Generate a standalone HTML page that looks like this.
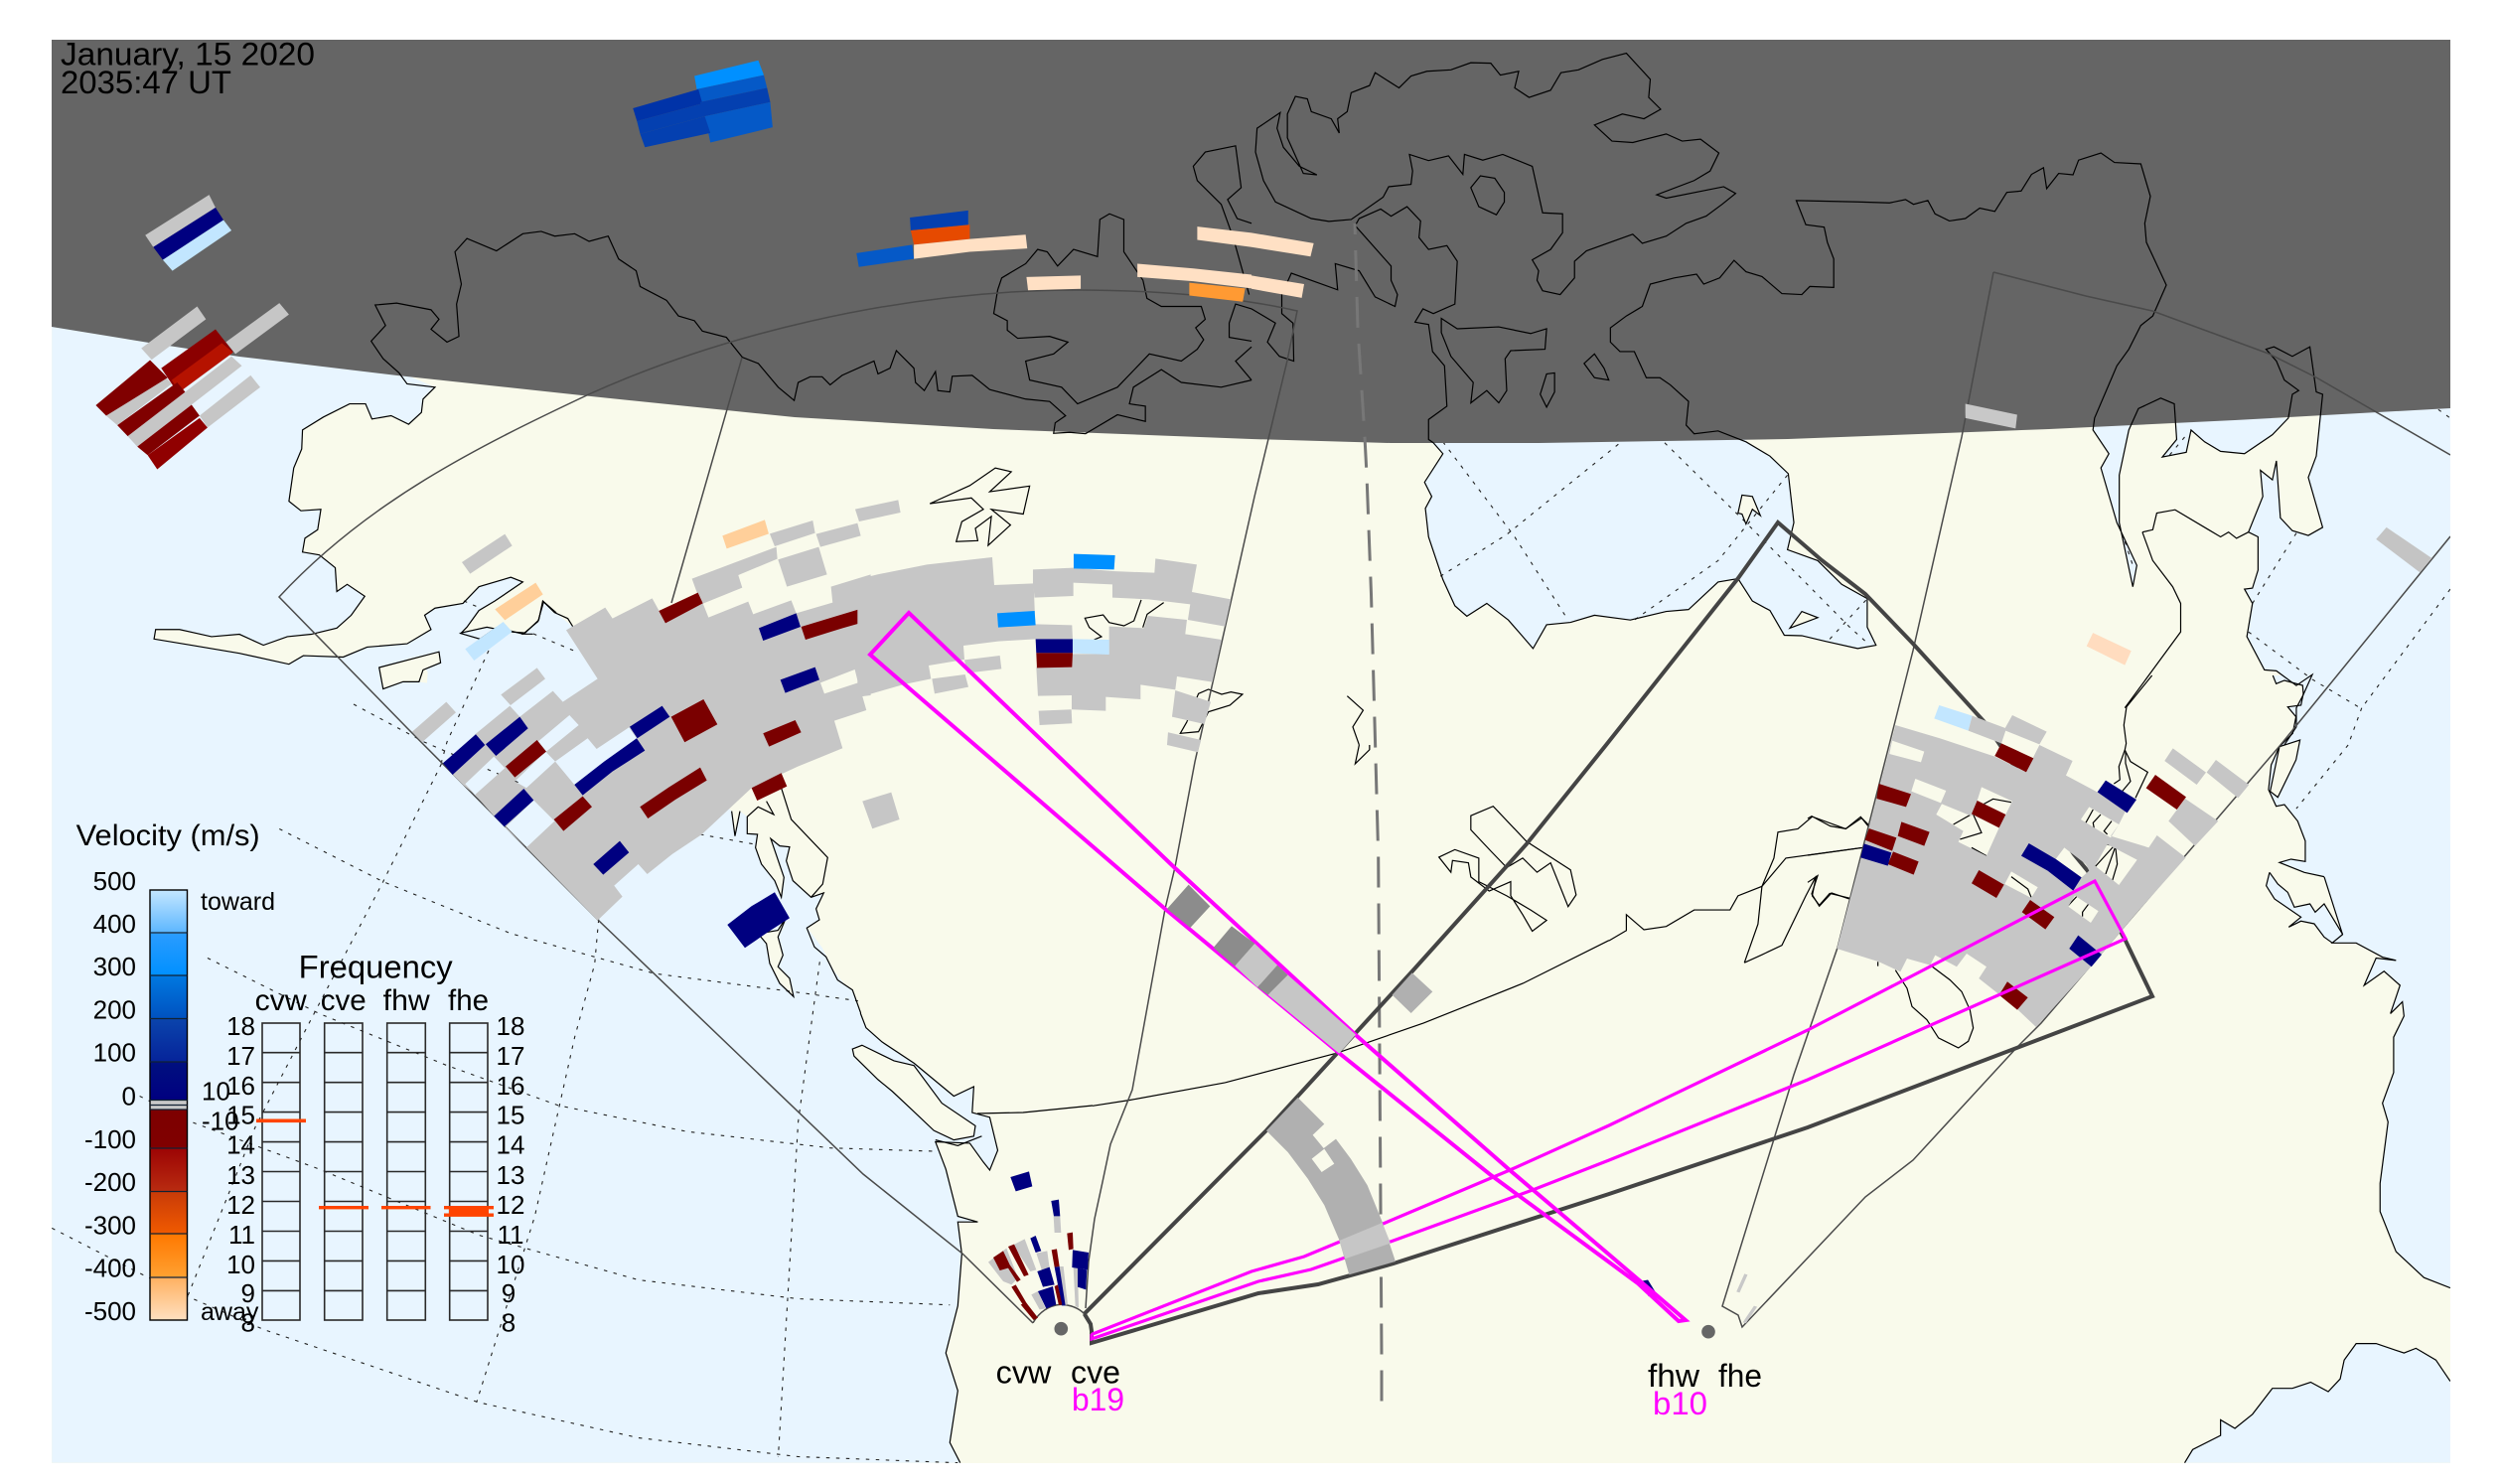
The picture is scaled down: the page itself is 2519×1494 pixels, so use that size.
<!DOCTYPE html>
<html><head><meta charset="utf-8"><style>
html,body{margin:0;padding:0;background:#fff}
svg{display:block;font-family:"Liberation Sans",sans-serif}
polygon,polyline,path{vector-effect:non-scaling-stroke}
.oc{fill:#e8f5ff}.la{fill:#f9faeb}
.c polyline,.c polygon{fill:none;stroke:#000;stroke-width:1.2}
.d polyline{fill:none;stroke:#222;stroke-width:1.1;stroke-dasharray:3.5 6.5}
.g{fill:#c6c6c6}.n{fill:#000080}.r{fill:#7a0000}.lb{fill:#c2e6ff}.b{fill:#0090ff}.po{fill:#ffcf9a}.pe{fill:#ffe0c4}
.ar{fill:#b0b0b0}.dg{fill:#8c8c8c}
.t{font-size:26px;fill:#000}
</style></head><body>
<svg width="2519" height="1494" viewBox="0 0 2519 1494" xmlns="http://www.w3.org/2000/svg">
<defs>
<clipPath id="plot"><rect x="52" y="40" width="2415" height="1433"/></clipPath>
<linearGradient id="cb" x1="0" y1="0" x2="0" y2="1">
<stop offset="0" stop-color="#c4e7ff"/><stop offset=".1" stop-color="#5cb6ff"/>
<stop offset=".102" stop-color="#2a9cff"/><stop offset=".199" stop-color="#0090ff"/>
<stop offset=".2" stop-color="#0078e0"/><stop offset=".298" stop-color="#0052c0"/>
<stop offset=".3" stop-color="#0a44ac"/><stop offset=".398" stop-color="#06249a"/>
<stop offset=".4" stop-color="#00107f"/><stop offset=".487" stop-color="#000080"/>
<stop offset=".488" stop-color="#c8c8c8"/><stop offset=".509" stop-color="#c8c8c8"/>
<stop offset=".51" stop-color="#7d0000"/><stop offset=".598" stop-color="#800000"/>
<stop offset=".6" stop-color="#9c0404"/><stop offset=".698" stop-color="#b82a10"/>
<stop offset=".7" stop-color="#c83a08"/><stop offset=".798" stop-color="#f05a00"/>
<stop offset=".8" stop-color="#ff7800"/><stop offset=".898" stop-color="#ffa030"/>
<stop offset=".9" stop-color="#ffb060"/><stop offset="1" stop-color="#ffe0c0"/>
</linearGradient>
</defs>
<g clip-path="url(#plot)">
<rect x="52" y="40" width="2415" height="1433" fill="#f9faeb"/>

<!-- oceans -->
<g transform="matrix(.8036 0 0 .4783 0 0)" class="oc">
<polygon points="65,650 510,760 510,790 545,815 530,840 528,868 512,893 490,875 466,882 458,850 438,850 405,878 379,905 378,945 368,985 362,1055 377,1075 402,1072 398,1115 382,1133 379,1162 400,1168 420,1195 422,1245 435,1230 457,1255 440,1295 422,1322 390,1335 360,1340 330,1358 300,1335 265,1340 225,1325 195,1325 193,1345 240,1358 300,1375 362,1398 380,1380 430,1383 460,1362 510,1355 540,1325 532,1295 545,1280 580,1270 600,1235 640,1215 655,1225 620,1265 600,1285 585,1320 578,1332 610,1320 640,1330 658,1332 675,1305 680,1265 697,1290 717,1319 748,1428 800,1533 820,1568 65,1568"/>
</g>
<g transform="matrix(.3333 0 0 .3333 410 500)" class="oc">
<polygon points="500,392 575,550 700,700 980,950 990,1025 1005,950 1027,967 1027,1018 1058,1020 1052,1060 1070,1110 1110,1160 1130,1210 1138,1150 1098,1033 1125,1055 1155,1058 1145,1100 1165,1160 1220,1210 1258,1197 1235,1245 1245,1278 1207,1303 1230,1360 1265,1390 1300,1460 1345,1490 1370,1560 0,1560 0,560 100,520 158,430 220,432 270,398 350,417 395,377"/>
</g>
<g transform="matrix(.8036 0 0 .4745 0 750)" class="oc">
<polygon points="65,0 830,0 900,150 960,300 1010,385 1030,430 1045,480 1073,540 1085,600 1105,630 1145,675 1195,745 1220,725 1218,780 1240,790 1250,860 1240,902 1232,885 1215,845 1172,842 1185,900 1200,1000 1225,1012 1200,1012 1205,1080 1200,1190 1185,1290 1200,1370 1190,1480 1203,1523 65,1523"/>
</g>
<g transform="matrix(.803 0 0 .4783 1260 0)" class="oc">
<polygon points="225,900 225,930 240,955 217,1015 226,1045 218,1070 222,1130 240,1220 255,1275 270,1297 295,1270 322,1305 335,1330 353,1365 370,1315 400,1310 430,1295 475,1305 520,1287 548,1283 585,1225 610,1218 628,1265 650,1285 668,1337 690,1338 720,1350 760,1365 783,1358 772,1320 772,1260 740,1230 710,1180 672,1157 680,1100 673,997 650,960 620,930 620,900"/>
<polygon points="1058,880 1055,905 1075,955 1065,985 1085,1100 1110,1190 1105,1235 1088,1100 1088,1000 1100,905 1105,880"/>
<polygon points="1160,880 1160,925 1142,962 1172,952 1178,905 1195,930 1215,950 1245,955 1280,915 1300,880"/>
<polygon points="1340,850 1335,960 1325,1005 1343,1110 1325,1127 1305,1117 1290,1090 1285,970 1280,1010 1265,990 1268,1045 1250,1120 1262,1130 1262,1200 1255,1238 1245,1240 1255,1270 1248,1340 1270,1410 1285,1412 1310,1443 1330,1420 1318,1465 1310,1490 1310,1530 1295,1568 1503,1568 1503,850"/>
</g>
<g transform="matrix(.3333 0 0 .3333 1820 680)" class="oc">
<polygon points="1405,0 1415,25 1440,15 1495,30 1497,55 1490,90 1450,95 1475,125 1465,175 1425,215 1400,270 1392,345 1415,395 1440,390 1480,440 1503,500 1503,562 1460,555 1425,565 1500,595 1560,608 1616,782 1560,690 1533,715 1517,690 1470,700 1450,655 1420,630 1395,595 1385,635 1410,675 1490,730 1453,760 1490,742 1530,750 1560,790 1585,808 1616,782 1941,900 1941,0"/>
</g>
<g transform="matrix(.803 0 0 .4745 1260 750)" class="oc">
<polygon points="1322,205 1322,245 1288,250 1345,280 1368,402 1355,420 1385,420 1418,450 1435,457 1410,452 1395,510 1420,480 1440,510 1428,570 1443,545 1445,575 1432,620 1432,695 1418,760 1425,800 1415,930 1415,990 1435,1075 1470,1130 1503,1152 1503,205"/>
<polygon points="1170,1523 1180,1495 1215,1465 1215,1432 1233,1450 1255,1420 1280,1365 1305,1365 1328,1352 1350,1372 1365,1345 1370,1305 1385,1270 1410,1270 1445,1290 1460,1280 1485,1305 1503,1350 1503,1523"/>
</g>

<!-- land in ocean -->
<g transform="matrix(.3333 0 0 .3333 410 500)" class="la">
<polygon points="0,490 93,468 102,503 45,505 62,530 60,563 0,555"/>
<polygon points="1060,1320 1120,1310 1145,1270 1120,1330 1135,1385 1120,1420 1155,1455 1167,1510 1125,1470 1095,1410 1085,1350"/>
</g>
<g transform="matrix(.8036 0 0 .4745 0 750)" class="la">
<polygon points="1068,645 1080,637 1120,670 1145,680 1180,760 1222,808 1220,830 1195,838 1170,818 1140,770 1118,735 1100,710 1070,660"/>
</g>
<g transform="matrix(.8036 0 0 .4783 0 0)" class="la">
<polygon points="475,1405 550,1372 552,1395 530,1410 525,1435 505,1435 480,1450"/>
</g>
<g transform="matrix(.803 0 0 .4783 1260 0)" class="la">
<polygon points="675,1322 690,1287 710,1300"/>
<polygon points="610,1080 615,1042 628,1045 638,1085 628,1072 620,1103 615,1082"/>
</g>
<g transform="matrix(.3333 0 0 .3333 1820 680)" class="la">
<polygon points="1397,350 1425,215 1487,195 1475,255 1420,368"/>
</g>

<!-- dotted grid -->
<g class="d">
<g transform="matrix(.8036 0 0 .4745 0 750)">
<polyline points="350,178 480,290 640,400 820,485 1000,525 1075,543"/>
<polyline points="260,452 400,570 560,680 700,765 860,820 1040,855 1170,862"/>
<polyline points="175,745 240,800 400,900 600,1040 800,1135 1000,1175 1190,1188"/>
<polyline points="65,1025 180,1125 235,1170 330,1240 600,1395 800,1470 1000,1510 1200,1523"/>
<polyline points="553,40 480,290 395,565 320,810 235,1170"/>
<polyline points="750,370 745,465 720,620 670,1000 597,1395"/>
<polyline points="1027,460 1000,800 975,1510"/>
</g>
<polyline points="356,709 427,747 527,790"/>
<polyline points="492,655 450,747 444,769"/>
<polyline points="705,840 760,850"/>
<polyline points="537,638 580,656"/>
<polyline points="467,605 483,612"/>
<g transform="matrix(.803 0 0 .4783 1260 0)">
<polyline points="240,930 330,1130 395,1300"/>
<polyline points="460,935 320,1125 235,1215"/>
<polyline points="518,932 620,1100 750,1320 770,1350"/>
<polyline points="672,1000 585,1180 480,1305"/>
<polyline points="725,1345 775,1255"/>
<polyline points="1310,1122 1255,1270"/>
<polyline points="1250,1330 1330,1430 1390,1490"/>
<polyline points="1392,1490 1375,1568"/>
<polyline points="1503,1240 1392,1490"/>
<polyline points="1170,920 1150,960"/>
<polyline points="1095,1140 1105,1190"/>
<polyline points="1488,862 1503,880"/>
</g>
<g transform="matrix(.803 0 0 .4745 1260 750)"><polyline points="1375,0 1310,135"/></g>
</g>

<!-- night -->
<polygon fill="#656565" points="52,40 2467,40 2467,411 2250,423 2063,432 1800,442 1549,446 1400,446 1260,442 1000,432 800,420 595,399 400,378 241,359 150,345 52,329"/>

<!-- coast -->
<g class="c">
<g transform="matrix(.8036 0 0 .4783 0 0)">
<polyline points="697,1290 680,1265 675,1305 658,1332 640,1330 610,1320 578,1332 585,1320 600,1285 620,1265 655,1225 640,1215 600,1235 580,1270 545,1280 532,1295 540,1325 510,1355 460,1362 430,1383 380,1380 362,1398 300,1375 240,1358 193,1345 195,1325 225,1325 265,1340 300,1335 330,1358 360,1340 390,1335 422,1322 440,1295 457,1255 435,1230 422,1245 420,1195 400,1168 379,1162 382,1133 398,1115 402,1072 377,1075 362,1055 368,985 378,945 379,905 405,878 438,850 458,850 466,882 490,875 512,893 528,868 530,840 545,815 510,808 500,785 480,755 465,718 483,685 470,642 497,638 540,652 550,672 540,693 560,720 575,708 572,640 578,598 570,530 585,502 622,528 655,492 678,487 695,497 720,492 738,508 762,497 775,545 797,570 802,603 835,632 850,665 870,675 880,697 910,710 930,752 950,765 975,815 995,843 1000,805 1015,793 1030,793 1040,810 1055,790 1095,760 1100,787 1115,775 1123,738 1145,775 1147,805 1158,822 1172,782 1175,822 1190,825 1193,792 1218,790 1240,820 1285,840 1315,845 1335,875 1322,890 1320,912 1340,910 1360,913 1400,873 1435,887 1435,855 1415,850 1420,815 1455,778 1480,805 1530,815 1568,800"/>
<polygon points="475,1405 550,1372 552,1395 530,1410 525,1435 505,1435 480,1450"/>
<polygon points="1165,1060 1215,1022 1247,985 1267,993 1240,1035 1290,1023 1282,1082 1242,1072 1266,1105 1238,1148 1242,1087 1222,1112 1225,1138 1198,1140 1205,1098 1232,1072 1217,1048"/>
<polyline points="1432,590 1408,530 1408,462 1390,450 1378,462 1375,540 1345,525 1325,560 1312,530 1300,525 1285,555 1255,585 1250,610 1245,660 1262,675 1262,695 1275,712 1315,708 1338,720 1320,745 1285,760 1290,800 1330,815 1350,850 1400,815 1440,745 1480,760 1500,735 1508,715 1498,690 1510,672 1505,645 1455,645 1437,628 1432,590"/>
<polyline points="1568,470 1550,460 1538,420 1555,395 1548,307 1510,320 1495,350 1500,380 1530,430 1545,500 1565,620"/>
<polyline points="1568,650 1548,640 1540,680 1540,710 1568,718"/>
<polyline points="1568,800 1548,760 1568,730"/>
</g>
<g transform="matrix(.803 0 0 .4783 1260 0)">
<polygon points="7,270 5,320 15,380 30,425 75,460 97,466 125,462 165,415 172,393 200,388 202,360 198,325 222,338 247,328 265,367 267,325 290,337 315,325 352,350 365,448 390,450 390,490 375,525 352,547 360,570 358,590 365,612 387,620 405,585 405,550 420,528 478,493 490,512 520,497 545,470 570,455 590,430 607,407 592,393 520,417 508,410 555,380 575,360 586,322 563,293 540,297 520,282 478,300 452,297 430,263 465,240 492,250 513,230 498,205 500,167 470,112 440,125 410,147 388,153 375,190 348,205 330,185 335,150 312,158 300,133 275,132 250,147 220,150 200,160 185,185 155,153 148,180 125,195 120,235 108,250 110,280 100,250 75,235 70,208 55,203 45,240 45,290 65,365 82,368 60,350 40,310 32,270 36,237"/>
<polygon points="275,395 287,370 305,375 317,405 317,425 307,452 285,435"/>
<polyline points="228,932 222,925 222,883 245,855 242,770 227,740 222,683 205,678 215,650 228,660 255,640 258,550 245,517 222,525 210,500 212,465 195,435 175,455 162,440 135,460 130,475 175,560 175,590 183,620 180,645 155,625 135,570 105,555 108,610 50,575 38,620 38,660 52,680 53,760 35,750 20,720 30,680 0,650"/>
<polygon points="238,670 258,692 310,688 350,702 370,692 368,735 325,738 318,755 320,822 310,848 295,822 275,848 278,805 250,750 238,700"/>
<polygon points="370,787 380,785 380,825 370,857 362,830"/>
<polygon points="430,745 442,775 448,800 430,795 417,765"/>
<polyline points="228,932 240,955 217,1015 226,1045 218,1070 222,1130 240,1220 255,1275 270,1297 295,1270 322,1305 335,1330 353,1365 370,1315 400,1310 430,1295 475,1305 520,1287 548,1283 585,1225 610,1218 628,1265 650,1285 668,1337 690,1338 720,1350 760,1365 783,1358 772,1320 772,1260 740,1230 710,1180 672,1157 680,1100 673,997 650,960 620,930 585,907 555,913 545,895 548,845 525,810 512,795 495,795 480,740 462,740 450,720 450,690 470,665 490,645 500,598 530,585 558,577 567,598 587,585 605,548 620,572 640,582 665,618 690,620 700,603 730,605 730,545 722,510 718,478 695,473 683,422 760,425 800,427 820,420 830,430 848,422 857,450 875,465 895,460 913,438 932,445 947,405 965,402 978,367 993,353 997,397 1012,365 1030,368 1037,337 1065,322 1082,342 1115,345 1127,413 1120,470 1122,510 1147,600 1130,665 1115,685 1100,735 1085,770 1057,880 1055,905 1075,955 1065,985 1085,1100 1110,1190 1105,1235 1088,1100 1088,1000 1100,905 1112,860 1140,838 1157,850 1160,925 1142,962 1172,952 1178,905 1195,930 1215,950 1245,955 1280,915 1300,880 1305,830 1313,822 1295,800 1285,760 1272,735 1282,730 1305,750 1327,730 1335,825 1343,830 1335,960 1325,1005 1343,1110 1325,1127 1305,1117 1290,1090 1285,970 1280,1010 1265,990 1268,1045 1250,1120 1262,1130 1262,1200 1255,1238 1245,1240 1255,1270 1248,1340 1270,1410 1285,1412 1310,1443 1330,1420 1318,1465 1310,1490 1310,1530 1295,1568"/>
<polyline points="1117,1120 1130,1115 1135,1080 1158,1073 1200,1115 1215,1130 1225,1120 1235,1133 1250,1120"/>
<polyline points="1117,1120 1130,1180 1155,1235 1165,1270 1165,1330 1130,1410 1095,1490"/>
<polygon points="675,1322 690,1287 710,1300"/>
<polygon points="610,1080 615,1042 628,1045 638,1085 628,1072 620,1103 615,1082"/>
<polyline points="120,1465 140,1495 127,1530 135,1568"/>
</g>
<g transform="matrix(.3333 0 0 .3333 410 500)">
<polyline points="380,415 350,415 395,377 412,318 445,350 485,368 500,392"/>
<polyline points="1130,880 1160,975 1270,1090 1255,1170 1220,1210"/>
<polyline points="980,950 990,1025 1005,950"/>
<polyline points="1085,920 1107,960 1060,937 1027,967 1027,1018 1058,1020 1052,1060 1070,1110 1110,1160 1130,1210 1138,1150 1098,1033 1125,1055 1155,1058 1145,1100 1165,1160 1220,1210 1258,1197 1235,1245 1245,1278 1207,1303 1230,1360 1265,1390 1300,1460 1345,1490 1370,1560"/>
<polygon points="1060,1320 1120,1310 1145,1270 1120,1330 1135,1385 1120,1420 1155,1455 1167,1510 1125,1470 1095,1410 1085,1350"/>
<polyline points="158,412 220,430 270,395 350,415"/>
</g>
<g transform="matrix(.8036 0 0 .4745 0 750)">
<polygon points="1068,645 1080,637 1120,670 1145,680 1180,760 1222,808 1220,830 1195,838 1170,818 1140,770 1118,735 1100,710 1070,660"/>
<polyline points="1078,569 1085,600 1105,630 1145,675 1195,745 1220,725 1218,780 1240,790 1250,860 1240,902 1232,885 1215,845 1172,842 1185,900 1200,1000 1225,1012 1200,1012 1205,1080 1200,1190 1185,1290 1200,1370 1190,1480 1203,1523"/>
<polyline points="1172,838 1200,850 1230,830"/>
</g>
<g transform="matrix(.3333 0 0 .3333 800 500)">
<polyline points="1047,312 1025,375 995,390 950,380 932,357 877,367 890,395 927,423 905,432"/>
<polyline points="1115,320 1065,355 1052,395"/>
<polyline points="1185,680 1220,595 1250,582 1290,597 1318,590 1353,597 1315,630 1250,650 1220,710 1165,715 1185,680"/>
</g>
<g transform="matrix(.3333 0 0 .3333 1820 680)">
<polyline points="1040,0 963,95 955,150 962,205 958,225 940,275 943,315 925,327"/>
<polyline points="958,225 975,260 1027,292 990,370"/>
<polyline points="960,230 960,265 975,320 950,350"/>
<polyline points="862,405 840,445"/><polyline points="885,420 862,445 865,462"/><polyline points="918,440 895,470 905,480"/>
<polyline points="905,510 925,515 868,578"/><polyline points="930,515 900,600"/><polyline points="930,520 935,570 920,620"/>
<polyline points="615,383 560,373 520,395 497,418 440,450"/><polyline points="500,420 525,475 460,495"/>
<polyline points="495,520 540,545"/><polyline points="615,608 665,645 675,670"/>
<polyline points="785,697 815,665"/><polyline points="850,688 830,715 830,728"/>
<polyline points="265,890 300,945 315,1000 360,1040 395,1095 455,1125 485,1105 500,1065 490,1010 465,955 430,920 370,875"/>
<polyline points="212,865 212,878"/>
<polyline points="0,432 12,425 68,455 115,463 160,427 185,458"/>
<polyline points="0,543 168,520"/>
<polyline points="0,625 30,605 12,660 35,697 72,657 125,675"/>
<polygon points="1397,350 1425,215 1487,195 1475,255 1420,368"/>
<polyline points="1405,0 1415,25 1440,15 1495,30 1497,55 1490,90 1450,95 1475,125 1465,175 1425,215 1400,270 1392,345 1415,395 1440,390 1480,440 1503,500 1503,562 1460,555 1425,565 1500,595 1560,608"/>
<polyline points="1395,595 1420,630 1450,655 1470,700 1517,690 1533,715 1560,690 1616,782"/>
<polyline points="1395,595 1385,635 1410,675 1490,730 1453,760 1490,742 1530,750 1560,790 1585,808"/>
</g>
<g transform="matrix(.803 0 0 .4745 1260 750)">
<polyline points="135,0 130,40 148,10 148,0"/>
<polygon points="275,150 303,130 345,205 400,265 407,318 397,343 375,250 358,270 340,240 320,260 300,225 275,180"/>
<polygon points="235,238 255,222 285,240 285,290 320,320 350,350 370,372 352,395 340,360 325,320 325,290 298,310 275,280 272,250 252,245 250,270"/>
<polyline points="470,395 470,360 492,392 520,385 555,350 600,350 610,320 640,300 670,240 765,218"/>
<polyline points="640,300 655,240 660,185 685,178 703,152 745,178 765,155 780,180"/>
<polyline points="618,462 635,380 640,300"/>
<polyline points="618,462 640,445 665,425 695,320 708,278 703,320 712,340 725,315 750,325"/>
<polyline points="1345,280 1368,402 1355,420 1385,420 1418,450 1435,457 1410,452 1395,510 1420,480 1440,510 1428,570 1443,545 1445,575 1432,620 1432,695 1418,760 1425,800 1415,930 1415,990 1435,1075 1470,1130 1503,1152"/>
<polyline points="1170,1523 1180,1495 1215,1465 1215,1432 1233,1450 1255,1420 1280,1365 1305,1365 1328,1352 1350,1372 1365,1345 1370,1305 1385,1270 1410,1270 1445,1290 1460,1280 1485,1305 1503,1350"/>
</g>
<!-- thin black arc -->
<g transform="matrix(.3333 0 0 .3333 1100 850)">
<polyline points="0,790 110,773 400,720 740,630 1000,540 1300,420 1560,290"/>
</g>
<polyline points="984,1121 1030,1120 1100,1113"/>
<polyline points="1620,947 1637,937"/>
</g>

<!-- thin FOV -->
<g fill="none" stroke="#4a4a4a" stroke-width="1.5">
<path d="M1040,1332 969,1262 869,1182 603,927 410,733 281,601 C370,505 480,450 595,396 C720,340 900,292 1085,292 C1160,292 1240,298 1306,313 L1296,363 1263,500 1203,767 1183,873 1173,915 1140,1097 1118,1152 1110,1190 1102,1227 1096,1270 1093,1317"/>
<path d="M1040,1332 C1050,1315 1068,1303 1068,1313 C1075,1311 1085,1313 1092,1322" stroke-width="0"/>
<path d="M1040,1331.7 Q1050,1315 1068,1313.3 Q1083,1314 1091.7,1322.7"/>
<polyline points="747,360 676,607"/>
<polyline points="2007,274 2100,298 2167,313 2284,356 2332,380 2467,458"/>
<polyline points="2007,274 1975,440 1926,655 1902,750 1850,954 1806,1082 1734,1315 1750,1324 1754,1336 1878,1205 1926,1168 2031,1054 2055,1030 2296,750 2467,540"/>
</g>

<!-- dashed -->
<polyline fill="none" stroke="#777" stroke-width="3" stroke-dasharray="31 16" stroke-dashoffset="20" points="1364,225 1367,330 1374,440 1376,478 1380.5,598 1387.7,863 1391,1367 1391,1421"/>

<!-- thick -->
<polyline fill="none" stroke="#444" stroke-width="4" stroke-linejoin="miter" points="1091.7,1322.7 1275,1138 1421.7,978 1536.7,850 1617,750 1750,582 1790,526 1834,564 1878,598 1926,648 1998,727 2088,860 2102,877 2140,947 2167,1003 1820,1135 1620,1202 1403,1272 1327,1293 1267,1302 1099,1352 1099,1340 1098,1333 1091.7,1322.7"/>

<!-- echoes: west -->
<g transform="matrix(.3333 0 0 .3333 410 500)">
<path class="g" fill-rule="evenodd" d="M480,403 598,335 620,368 740,307 780,380 893,322 910,365 1030,317 1045,355 1160,313 1175,352 1285,320 1280,272 1400,235 1400,600 1375,603 1387,645 1290,677 1315,760 1180,815 1040,880 890,1020 800,1080 725,1140 698,1110 625,1175 650,1208 575,1280 360,1060 295,995 262,965 205,900 170,872 138,840 205,718 310,632 340,665 440,587 470,620 575,550Z M447,800 545,730 572,762 670,697 693,730 505,870Z M175,868 262,785 295,820 205,900Z M325,860 418,770 447,800 360,880Z M395,740 490,660 518,690 420,770Z M295,1000 382,917 445,980 360,1060Z M1248,562 1352,522 1362,562 1260,595Z"/>
<polygon class="g" points="15,710 118,620 147,652 45,742"/>
<polygon class="g" points="283,598 392,517 417,550 312,630"/>
<polygon class="g" points="165,198 295,113 317,148 190,233"/>
<polygon class="po" points="265,340 388,260 410,295 295,373"/>
<polygon class="lb" points="175,460 290,378 317,408 202,495"/>
<polygon class="po" points="952,118 1080,70 1092,112 965,157"/>
<polygon class="g" points="1095,112 1225,72 1232,110 1110,150"/>
<polygon class="g" points="1235,113 1360,80 1370,118 1248,152"/>
<polygon class="g" points="1353,38 1483,10 1490,48 1365,75"/>
<polygon class="g" points="1120,190 1243,152 1268,235 1147,272"/>
<polygon class="g" points="1375,920 1462,893 1487,975 1405,1003"/>
<polygon class="g" points="860,248 1000,195 1115,152 1118,188 1000,237 1012,275 888,325"/>
<g class="r">
<polygon points="760,345 878,290 893,322 780,382"/>
<polygon points="1190,393 1305,358 1415,325 1428,365 1315,397 1203,432"/>
<polygon points="797,665 895,612 937,688 838,742"/>
<polygon points="1075,715 1172,675 1190,712 1093,755"/>
<polygon points="1040,880 1130,835 1147,875 1057,918"/>
<polygon points="703,937 790,878 885,818 905,857 810,915 727,972"/>
<polygon points="443,975 530,905 558,937 472,1010"/>
<polygon points="297,815 392,735 420,770 325,848"/>
</g>
<g class="n">
<polygon points="1062,397 1175,352 1188,393 1075,435"/>
<polygon points="1127,553 1232,515 1245,553 1142,593"/>
<polygon points="672,695 770,632 793,665 695,730"/>
<polygon points="505,870 595,800 693,730 718,767 620,830 530,902"/>
<polygon points="237,748 340,665 365,700 268,783"/>
<polygon points="108,805 207,718 235,750 137,840"/>
<polygon points="262,965 352,882 382,917 293,997"/>
<polygon points="562,1110 642,1040 670,1075 592,1142"/>
<polygon points="967,1293 1040,1237 1110,1195 1155,1273 1090,1315 1020,1363"/>
</g>
</g>
<g transform="matrix(.3333 0 0 .3333 800 500)">
<g class="g">
<polygon points="190,250 250,235 400,205 597,183 603,267 722,262 727,385 838,388 840,430 727,430 615,437 510,450 513,492 405,510 412,550 330,567 205,603 190,562"/>
<polygon points="720,220 842,215 960,225 1087,230 1090,187 1215,205 1200,288 1318,310 1300,392 1188,372 1195,325 1070,310 960,305 960,265 842,260 842,300 725,305 720,262"/>
<polygon points="513,493 620,480 625,520 522,533"/>
<polygon points="415,550 515,537 525,575 423,595"/>
<polygon points="730,515 840,475 950,475 950,392 1055,397 1068,360 1185,372 1180,415 1290,432 1262,560 1155,543 1150,583 1045,568 1045,612 940,605 940,647 837,643 837,600 735,602"/>
<polygon points="737,647 836,643 838,685 740,690"/>
<polygon points="1150,585 1257,620 1238,687 1140,665"/>
<polygon points="1128,712 1228,735 1218,772 1125,750"/>
</g>
<polygon class="b" points="843,173 968,177 965,220 843,217"/>
<polygon class="b" points="612,352 725,345 728,388 615,395"/>
<polygon class="n" points="728,430 840,430 840,472 730,472"/>
<polygon class="lb" points="840,430 950,432 950,477 840,473"/>
<polygon class="r" points="730,472 840,472 838,515 732,517"/>
</g>
<!-- echoes: east -->
<g transform="matrix(.3333 0 0 .3333 1820 680)">
<path class="g" fill-rule="evenodd" d="M265,150 400,190 565,245 660,292 680,250 700,210 800,258 780,302 880,355 960,410 940,450 915,485 1030,520 1055,483 1142,550 1000,710 855,880 690,1062 635,1010 580,965 517,915 540,880 480,840 450,880 385,845 370,875 300,855 280,895 215,865 88,825 160,555Z M255,197 352,230 342,262 247,237Z M325,312 418,348 402,385 313,350Z M388,420 405,388 495,425 470,470Z M512,378 525,337 618,380 598,420Z M455,503 470,470 498,420 578,460 540,545Z M825,435 850,397 940,450 915,490Z M748,556 775,520 840,570 850,590 827,610Z M868,575 905,510 995,557 940,633Z M595,630 615,592 695,640 675,672Z M787,698 807,665 878,712 855,747Z"/>
<polygon class="lb" points="382,130 397,90 497,122 485,167"/>
<polygon class="g" points="497,122 600,160 585,205 485,167"/>
<polygon class="g" points="618,120 722,170 700,208 593,165"/>
<polygon class="g" points="1090,440 1140,372 1240,440 1170,515"/>
<polygon class="g" points="1078,258 1103,220 1203,293 1175,330"/>
<polygon class="g" points="1205,293 1233,255 1333,330 1300,370"/>
<g class="r">
<polygon points="565,243 585,205 682,250 660,292"/>
<polygon points="1022,340 1050,300 1143,367 1115,405"/>
<polygon points="215,327 312,358 297,397 208,372"/>
<polygon points="185,462 268,490 255,530 173,497"/>
<polygon points="283,442 368,473 352,515 272,485"/>
<polygon points="258,532 335,562 320,602 242,570"/>
<polygon points="495,418 512,378 598,420 578,460"/>
<polygon points="517,588 593,632 570,672 495,628"/>
<polygon points="672,678 745,730 718,767 647,715"/>
<polygon points="603,925 665,973 633,1010 578,965"/>
</g>
<g class="n">
<polygon points="875,352 900,317 993,375 965,415"/>
<polygon points="170,508 253,535 242,575 160,550"/>
<polygon points="817,785 888,843 857,880 790,825"/>
<polygon points="645,545 668,507 750,555 827,610 802,650 725,590"/>
</g>
</g>
<!-- echoes misc -->
<g transform="matrix(.803 0 0 .4783 1260 0)">
<polygon fill="#c8c8c8" points="895,850 960,873 958,902 895,880"/>
<polygon fill="#ffdcbf" points="1047,1360 1055,1332 1103,1370 1095,1400"/>
<polygon fill="#c4c4c4" points="1410,1135 1423,1110 1480,1175 1465,1205"/>
<polygon class="pe" points="0,490 78,512 74,540 0,520"/>
<polygon class="pe" points="0,580 66,598 63,627 0,608"/>
</g>
<g transform="matrix(.8036 0 0 .4783 0 0)">
<polygon fill="#0090ff" points="870,160 950,127 957,158 873,188"/>
<polygon fill="#0559c7" points="873,188 957,158 961,185 877,215"/>
<polygon fill="#0033a8" points="793,228 875,188 880,218 798,255"/>
<polygon fill="#0440b0" points="798,255 880,218 883,245 802,282"/>
<polygon fill="#0440b0" points="877,215 961,185 965,215 883,245"/>
<polygon fill="#0559c7" points="883,245 965,215 968,268 890,300"/>
<polygon fill="#0440b0" points="802,282 883,245 890,280 808,310"/>
<polygon class="g" points="182,495 262,410 270,437 192,520"/>
<polygon class="n" points="192,520 270,437 280,463 204,547"/>
<polygon class="lb" points="204,547 280,463 290,485 216,570"/>
<polygon class="g" points="177,733 247,645 258,672 190,757"/>
<polygon class="g" points="283,720 350,638 362,662 295,745"/>
<polygon class="g" points="133,875 205,790 215,808 147,895"/>
<polygon class="g" points="160,918 290,750 303,770 172,940"/>
<polygon class="g" points="250,875 314,790 326,815 260,900"/>
<polygon fill="#800000" points="120,853 188,758 210,795 133,875"/>
<polygon fill="#8b0000" points="202,775 270,693 292,740 222,825"/>
<polygon fill="#b51200" points="215,800 278,722 292,742 225,825"/>
<polygon fill="#800000" points="147,895 222,805 232,825 160,918"/>
<polygon fill="#800000" points="172,940 240,852 250,875 185,958"/>
<polygon fill="#900000" points="185,958 250,880 260,900 197,988"/>
<polygon fill="#0440b0" points="1140,458 1213,443 1213,473 1141,485"/>
<polygon fill="#e64a00" points="1141,485 1215,473 1215,503 1145,515"/>
<polygon fill="#0559c7" points="1073,533 1143,515 1145,545 1076,562"/>
<polygon class="pe" points="1145,515 1215,503 1285,494 1287,523 1215,530 1145,545"/>
<polygon class="pe" points="1286,583 1354,580 1354,608 1288,611"/>
<polygon class="pe" points="1425,555 1495,565 1568,578 1568,607 1495,592 1425,583"/>
<polygon fill="#ff9a33" points="1490,595 1560,607 1557,635 1490,622"/>
<polygon class="pe" points="1500,477 1568,490 1568,520 1500,505"/>
</g>
<!-- cvw cluster -->
<g transform="matrix(.3333 0 0 .3333 950 1130)">
<g class="g">
<polygon points="332,283 352,283 355,333 335,333"/>
<polygon points="392,438 405,440 408,560 398,555"/>
<polygon points="350,435 362,435 375,550 365,552"/>
<polygon points="280,395 313,388 320,440 297,447"/>
<polygon points="265,520 285,510 308,562 290,565"/>
<polygon points="210,370 245,352 280,445 262,450"/>
<polygon points="135,422 190,380 225,470 205,490 180,480"/>
</g>
<g class="n">
<polygon points="202,165 258,148 268,193 218,208"/>
<polygon points="325,237 348,233 352,283 333,283"/>
<polygon points="262,350 278,342 295,388 278,393"/>
<polygon points="390,385 438,393 435,445 388,438"/>
<polygon points="405,440 433,445 430,505 405,497"/>
<polygon points="335,437 350,435 368,553 357,553"/>
<polygon points="283,450 320,437 335,490 300,497"/>
<polygon points="285,510 330,495 340,550 310,562"/>
</g>
<g class="r">
<polygon points="373,335 390,332 392,382 378,385"/>
<polygon points="326,385 342,382 350,435 335,437"/>
<polygon points="335,495 345,490 358,550 348,552"/>
<polygon points="195,375 213,368 257,460 243,465"/>
<polygon points="150,408 180,388 200,430 233,475 222,482 195,440 170,447"/>
<polygon points="205,497 218,490 262,565 252,570"/>
<polygon points="233,550 250,545 285,590 272,597"/>
</g>
</g>
<circle cx="1068.3" cy="1337.7" r="6.8" fill="#666"/>
<circle cx="1720" cy="1340.7" r="6.8" fill="#666"/>
<g transform="matrix(.803 0 0 .4745 1260 750)">
<polygon class="n" points="487,1138 497,1135 508,1165 498,1170"/>
<polygon fill="#c8c8c8" points="618,1122 622,1124 612,1162 608,1160"/>
<polygon fill="#c8c8c8" points="630,1190 634,1192 620,1227 616,1225"/>
</g>

<!-- magenta -->
<g fill="none" stroke="#ff00ff" stroke-width="3.2" stroke-linejoin="miter">
<polygon points="1099,1344 1100,1343 1260,1280 1313,1265 1390,1233 1520,1178 1620,1133 1820,1037 2109,887 2140,945 1820,1087 1620,1168 1543,1198 1400,1250 1320,1278 1267,1290 1099,1348"/>
<polygon stroke-width="4" points="915,617 1182,873 1365,1042 1520,1178 1620,1263 1697,1329 1690,1330 1649,1292 1501,1183 1348,1060 1173,915 876,659"/>
</g>
<!-- echoes over magenta -->
<g transform="matrix(.3333 0 0 .3333 1100 850)">
<polygon class="dg" points="225,195 290,122 355,187 295,252"/>
<polygon class="dg" points="365,312 420,247 490,300 430,368"/>
<polygon class="g" points="430,368 490,300 558,365 498,432"/>
<polygon class="dg" points="498,432 558,365 590,395 530,455"/>
<polygon class="g" points="530,455 590,395 795,575 745,632"/>
<path class="ar" fill-rule="evenodd" d="M525,865 620,765 700,845 665,878 698,918 735,890 780,950 830,1030 875,1140 915,1260 775,1300 745,1195 700,1090 650,1010 590,930Z M662,950 700,920 730,965 692,990Z"/>
<polygon class="g" points="745,1197 875,1143 900,1205 763,1252"/>
<polygon class="ar" points="905,455 965,388 1027,445 962,510"/>
</g>
</g>

<!-- title -->
<text x="61" y="65.5" font-size="32" textLength="256" lengthAdjust="spacingAndGlyphs">January, 15 2020</text>
<text x="61" y="94" font-size="32" textLength="172" lengthAdjust="spacingAndGlyphs">2035:47 UT</text>

<!-- colorbar -->
<text x="76.7" y="851" font-size="30" textLength="185" lengthAdjust="spacingAndGlyphs">Velocity (m/s)</text>
<rect x="151" y="896" width="37.5" height="433" fill="url(#cb)" stroke="#000" stroke-width="1.4"/>
<g stroke="#123" stroke-width="1.3">
<line x1="151" x2="188.5" y1="939" y2="939"/><line x1="151" x2="188.5" y1="982" y2="982"/><line x1="151" x2="188.5" y1="1025.5" y2="1025.5"/><line x1="151" x2="188.5" y1="1069" y2="1069"/><line x1="151" x2="188.5" y1="1107.5" y2="1107.5"/><line x1="151" x2="188.5" y1="1112.5" y2="1112.5"/><line x1="151" x2="188.5" y1="1117" y2="1117"/><line x1="151" x2="188.5" y1="1156" y2="1156"/><line x1="151" x2="188.5" y1="1199.5" y2="1199.5"/><line x1="151" x2="188.5" y1="1242" y2="1242"/><line x1="151" x2="188.5" y1="1286" y2="1286"/>
</g>
<g class="t" text-anchor="end" font-size="26">
<text x="137" y="896">500</text><text x="137" y="939">400</text><text x="137" y="982">300</text><text x="137" y="1025.6">200</text><text x="137" y="1068.6">100</text><text x="137" y="1112.7">0</text><text x="137" y="1155.8">-100</text><text x="137" y="1199">-200</text><text x="137" y="1242.6">-300</text><text x="137" y="1285.6">-400</text><text x="137" y="1329">-500</text>
</g>
<text x="202" y="916" class="t" style="font-size:25px">toward</text>
<text x="202" y="1329" class="t" style="font-size:25px">away</text>

<!-- frequency -->
<text x="300.7" y="984.6" font-size="32" textLength="155" lengthAdjust="spacingAndGlyphs">Frequency</text>
<text x="256.7" y="1017" font-size="30" textLength="52" lengthAdjust="spacingAndGlyphs">cvw</text>
<text x="322.7" y="1017" font-size="30" textLength="46" lengthAdjust="spacingAndGlyphs">cve</text>
<text x="385.7" y="1017" font-size="30" textLength="47" lengthAdjust="spacingAndGlyphs">fhw</text>
<text x="451" y="1017" font-size="30" textLength="41" lengthAdjust="spacingAndGlyphs">fhe</text>
<g fill="none" stroke="#2a2a2a" stroke-width="1.6">
<rect x="264" y="1030" width="38" height="299"/><rect x="326.7" y="1030" width="38.3" height="299"/><rect x="389.7" y="1030" width="38.6" height="299"/><rect x="452.7" y="1030" width="38.3" height="299"/>
<path d="M264 1059.7h38M326.7 1059.7h38.3M389.7 1059.7h38.6M452.7 1059.7h38.3M264 1089.7h38M326.7 1089.7h38.3M389.7 1089.7h38.6M452.7 1089.7h38.3M264 1119.6h38M326.7 1119.6h38.3M389.7 1119.6h38.6M452.7 1119.6h38.3M264 1149.6h38M326.7 1149.6h38.3M389.7 1149.6h38.6M452.7 1149.6h38.3M264 1179.5h38M326.7 1179.5h38.3M389.7 1179.5h38.6M452.7 1179.5h38.3M264 1209.5h38M326.7 1209.5h38.3M389.7 1209.5h38.6M452.7 1209.5h38.3M264 1239.5h38M326.7 1239.5h38.3M389.7 1239.5h38.6M452.7 1239.5h38.3M264 1269.4h38M326.7 1269.4h38.3M389.7 1269.4h38.6M452.7 1269.4h38.3M264 1299.4h38M326.7 1299.4h38.3M389.7 1299.4h38.6M452.7 1299.4h38.3"/>
</g>
<g fill="#ff4400">
<rect x="258" y="1126.5" width="50" height="3.6"/>
<rect x="321" y="1214" width="50" height="3.4"/>
<rect x="384" y="1214" width="49.5" height="3.4"/>
<rect x="447" y="1214" width="50" height="3.4"/><rect x="447" y="1221.5" width="50" height="3.4"/><rect x="452" y="1214" width="40" height="10.5"/>
</g>
<g class="t" text-anchor="end">
<text x="257" y="1042">18</text><text x="257" y="1072">17</text><text x="257" y="1102">16</text><text x="257" y="1131.7">15</text><text x="257" y="1161.6">14</text><text x="257" y="1192">13</text><text x="257" y="1222">12</text><text x="257" y="1252">11</text><text x="257" y="1282">10</text><text x="257" y="1311">9</text><text x="257" y="1340.7">8</text>
</g>
<g class="t" text-anchor="middle">
<text x="514" y="1042">18</text><text x="514" y="1072">17</text><text x="514" y="1102">16</text><text x="514" y="1131.7">15</text><text x="514" y="1161.6">14</text><text x="514" y="1192">13</text><text x="514" y="1222">12</text><text x="514" y="1252">11</text><text x="514" y="1282">10</text><text x="512" y="1311">9</text><text x="512" y="1340.7">8</text>
</g>
<text x="203" y="1107.6" class="t">10</text>
<text x="203" y="1137.5" class="t">-10</text>

<!-- radar labels -->
<text x="1002.7" y="1392.7" font-size="32" textLength="55.7" lengthAdjust="spacingAndGlyphs">cvw</text>
<text x="1078" y="1392.7" font-size="32" textLength="50" lengthAdjust="spacingAndGlyphs">cve</text>
<text x="1079" y="1420" font-size="32" fill="#ff00ff" textLength="53" lengthAdjust="spacingAndGlyphs">b19</text>
<text x="1659" y="1396" font-size="32" textLength="52" lengthAdjust="spacingAndGlyphs">fhw</text>
<text x="1730" y="1396" font-size="32" textLength="44" lengthAdjust="spacingAndGlyphs">fhe</text>
<text x="1664" y="1424" font-size="32" fill="#ff00ff" textLength="55" lengthAdjust="spacingAndGlyphs">b10</text>
</svg>
</body></html>
